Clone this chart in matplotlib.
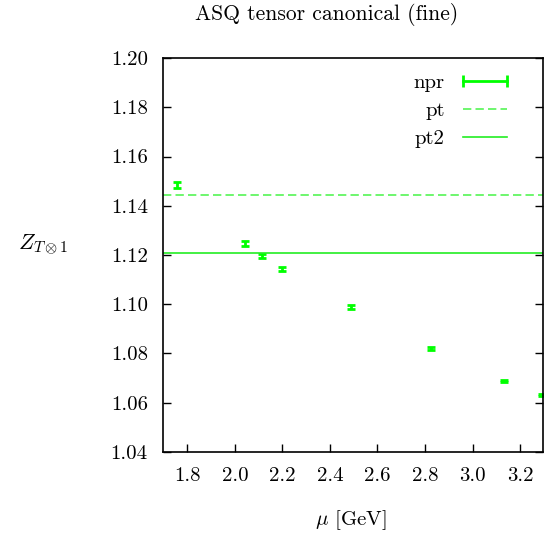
import matplotlib
matplotlib.use("Agg")
import matplotlib.pyplot as plt
from matplotlib.lines import Line2D

plt.rcParams["font.family"] = "serif"
plt.rcParams["font.serif"] = ["cmr10", "DejaVu Serif"]
plt.rcParams["mathtext.fontset"] = "cm"
plt.rcParams["axes.formatter.use_mathtext"] = True

# data
mu = [1.755, 2.041, 2.113, 2.197, 2.489, 2.824, 3.130, 3.292]
z_npr = [1.1484, 1.1248, 1.1196, 1.1144, 1.0988, 1.0820, 1.0690, 1.0630]
z_err = [0.0012, 0.0010, 0.0009, 0.0008, 0.0007, 0.0005, 0.0004, 0.0004]
z_pt = 1.1444
z_pt2 = 1.1207

green = "#00ff00"
fs = 15

fig = plt.figure(figsize=(5.59, 5.42), dpi=100)
ax = fig.add_axes([163 / 559, 90 / 542, 380 / 559, 394 / 542])

ax.errorbar(mu, z_npr, yerr=z_err, fmt="none", ecolor=green,
            elinewidth=2, capsize=3, capthick=2)
ax.axhline(z_pt, color="#55f555", lw=1.2, ls=(0, (5, 2.5)))
ax.axhline(z_pt2, color="#22ee22", lw=1.2)

ax.set_xlim(1.698, 3.296)
ax.set_ylim(1.04, 1.20)
ax.set_xticks([1.8, 2.0, 2.2, 2.4, 2.6, 2.8, 3.0, 3.2])
ax.set_yticks([1.04, 1.06, 1.08, 1.10, 1.12, 1.14, 1.16, 1.18, 1.20])
ax.xaxis.set_major_formatter(matplotlib.ticker.FormatStrFormatter("%.1f"))
ax.yaxis.set_major_formatter(matplotlib.ticker.FormatStrFormatter("%.2f"))
ax.tick_params(axis="both", direction="in", length=6, width=1,
               labelsize=fs, pad=11)
ax.tick_params(axis="y", right=True)
for sp in ax.spines.values():
    sp.set_linewidth(1.2)

handles = [
    Line2D([], [], color=green, lw=2, marker="|", markersize=8, mew=2),
    Line2D([], [], color="#55f555", lw=1.2, ls=(0, (5, 2.5))),
    Line2D([], [], color="#22ee22", lw=1.2),
]
ax.legend(handles, ["npr", "pt", "pt2"], loc="upper right", frameon=False,
          markerfirst=False, numpoints=2, fontsize=fs, handlelength=2.7,
          handletextpad=0.6, labelspacing=0.45, borderpad=0,
          borderaxespad=0, bbox_to_anchor=(0.922, 0.96))

fig.text(327 / 559, 1 - 15 / 542, "ASQ tensor canonical (fine)",
         ha="center", va="center", fontsize=fs + 0.5)
fig.text(43 / 559, 1 - 245 / 542, r"$Z_{T\otimes 1}$",
         ha="center", va="center", fontsize=fs + 1)
fig.text(351 / 559, 1 - 520 / 542, r"$\mu$ [GeV]",
         ha="center", va="center", fontsize=fs)

fig.savefig("out.png", dpi=100)
